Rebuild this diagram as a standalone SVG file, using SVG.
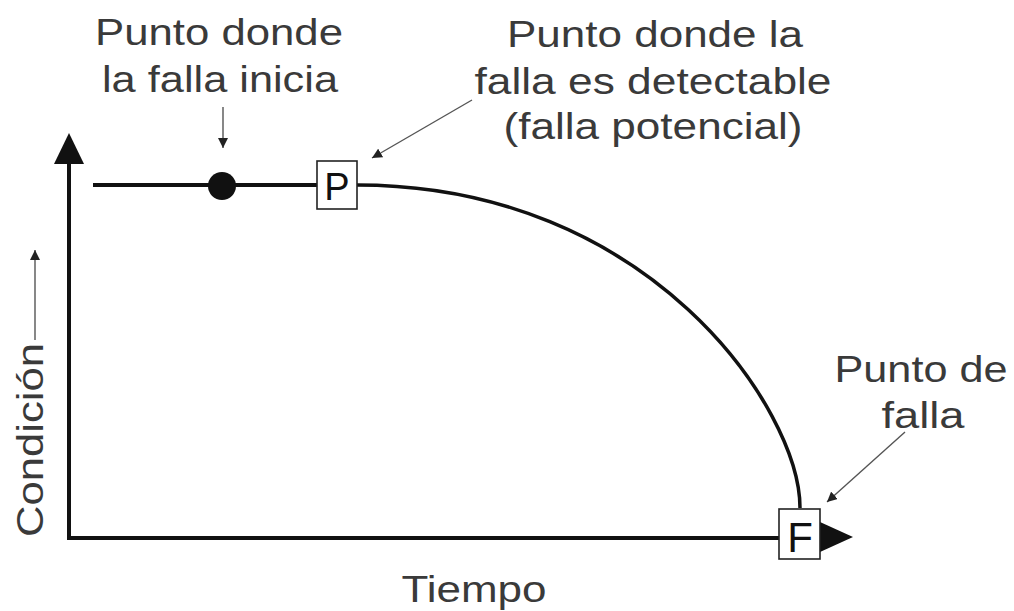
<svg xmlns="http://www.w3.org/2000/svg" width="1014" height="611" viewBox="0 0 1014 611">
  <style>
    .lbl { font-family: "Liberation Sans", Arial, sans-serif; font-size: 37px; fill: #3a3a3a; text-anchor: middle; }
    .box { fill: #ffffff; stroke: #222; stroke-width: 1.6; }
    .boxtxt { font-family: "Liberation Sans", Arial, sans-serif; fill: #111; text-anchor: middle; }
    .axis { stroke: #111; stroke-width: 4; fill: none; }
    .curve { stroke: #111; stroke-width: 3.5; fill: none; }
    .thin { stroke: #555; stroke-width: 1.4; fill: none; marker-end: url(#sm); }
  </style>
  <defs>
    <marker id="sm" viewBox="0 0 10 10" refX="10" refY="5" markerWidth="10" markerHeight="10" markerUnits="userSpaceOnUse" orient="auto">
      <path d="M0,0 L10,5 L0,10 Z" fill="#222"/>
    </marker>
  </defs>
  <rect width="1014" height="611" fill="#ffffff"/>

  <g id="axes">
    <line class="axis" x1="69" y1="160" x2="69" y2="538"/>
    <polygon points="69,133 54,164 84,164" fill="#111"/>
    <line class="axis" x1="67" y1="538" x2="824" y2="538"/>
    <polygon points="853,537 820,522 820,552" fill="#111"/>
  </g>

  <g id="connectors">
    <line class="axis" x1="93" y1="185" x2="317" y2="185"/>
    <path class="curve" d="M357,185 C650,185 800,410 800,508"/>
    <line class="thin" x1="223" y1="107" x2="223" y2="148"/>
    <line class="thin" x1="472" y1="100" x2="372" y2="158"/>
    <line class="thin" x1="905" y1="432" x2="827" y2="502"/>
    <line class="thin" x1="35" y1="340" x2="35" y2="250"/>
  </g>

  <g id="node-inicio">
    <circle cx="222" cy="186" r="14" fill="#111"/>
  </g>

  <g id="node-P">
    <rect class="box" x="317" y="161" width="40" height="48"/>
    <text class="boxtxt" x="337" y="200" font-size="38">P</text>
  </g>

  <g id="node-F">
    <rect class="box" x="779" y="509" width="41" height="50"/>
    <text class="boxtxt" x="800" y="552" font-size="42">F</text>
  </g>

  <g id="label-inicio">
    <text class="lbl" x="219" y="45" textLength="248" lengthAdjust="spacingAndGlyphs">Punto donde</text>
    <text class="lbl" x="220" y="92" textLength="236" lengthAdjust="spacingAndGlyphs">la falla inicia</text>
  </g>

  <g id="label-detectable">
    <text class="lbl" x="655" y="47" textLength="296" lengthAdjust="spacingAndGlyphs">Punto donde la</text>
    <text class="lbl" x="653" y="94" textLength="357" lengthAdjust="spacingAndGlyphs">falla es detectable</text>
    <text class="lbl" x="653" y="139" textLength="299" lengthAdjust="spacingAndGlyphs">(falla potencial)</text>
  </g>

  <g id="label-falla">
    <text class="lbl" x="921" y="382" textLength="173" lengthAdjust="spacingAndGlyphs">Punto de</text>
    <text class="lbl" x="923" y="428" textLength="83" lengthAdjust="spacingAndGlyphs">falla</text>
  </g>

  <g id="label-tiempo">
    <text class="lbl" x="474" y="602" textLength="145" lengthAdjust="spacingAndGlyphs">Tiempo</text>
  </g>

  <g id="label-condicion">
    <text class="lbl" x="0" y="0" transform="translate(43,440) rotate(-90)" textLength="194" lengthAdjust="spacingAndGlyphs">Condición</text>
  </g>
</svg>
